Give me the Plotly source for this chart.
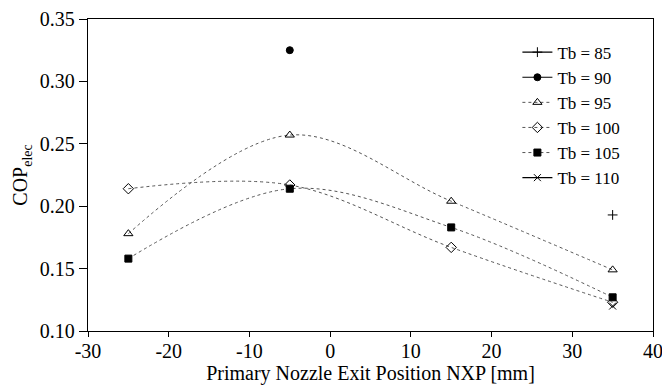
import plotly.graph_objects as go

nxp = [-25, -5, 15, 35]
tb85_x = [35]
tb85_y = [0.193]
tb90_x = [-5]
tb90_y = [0.325]
tb95_y = [0.178, 0.257, 0.204, 0.149]
tb100_y = [0.214, 0.217, 0.167, 0.123]
tb105_y = [0.158, 0.214, 0.183, 0.127]
tb110_x = [35]
tb110_y = [0.120]
x_ticks = [-30, -20, -10, 0, 10, 20, 30, 40]
x_ticktext = ["-30", "-20", "-10", "0", "10", "20", "30", "40"]
y_ticks = [0.10, 0.15, 0.20, 0.25, 0.30, 0.35]
y_ticktext = ["0.10", "0.15", "0.20", "0.25", "0.30", "0.35"]

FONT = "Liberation Serif"
fig = go.Figure()

def add(name, x, y, symbol, dash, color, msize=7, mcolor="black", lw=1.2):
    fig.add_trace(go.Scatter(
        x=x, y=y, name=name, mode="lines+markers",
        line=dict(color=color, width=lw, dash=dash, shape="spline", smoothing=1),
        marker=dict(symbol=symbol, size=msize, color=mcolor,
                    line=dict(color="black", width=1)),
    ))

add("Tb = 85", tb85_x, tb85_y, "cross-thin", "solid", "black", msize=7)
add("Tb = 90", tb90_x, tb90_y, "circle", "solid", "black", msize=7)
add("Tb = 95", nxp, tb95_y, "triangle-up-open", "dot", "#555555", msize=8, lw=1)
add("Tb = 100", nxp, tb100_y, "diamond-open", "dot", "#555555", msize=8, lw=1)
add("Tb = 105", nxp, tb105_y, "square", "dot", "#555555", msize=7, lw=1)
add("Tb = 110", tb110_x, tb110_y, "x-thin", "solid", "black", msize=7)

axis_common = dict(
    showline=True, linecolor="black", linewidth=1.3, mirror=True,
    ticks="outside", tickcolor="black", tickwidth=1.3,
    showgrid=False, zeroline=False, automargin=False,
    ticklabeloverflow="allow",
    tickfont=dict(family=FONT, size=20, color="black"),
)

fig.update_layout(
    width=662, height=388,
    margin=dict(l=88, r=9, t=19, b=57),
    paper_bgcolor="white", plot_bgcolor="white",
    font=dict(family=FONT, color="black"),
    xaxis=dict(range=[-30, 40], tickmode="array", ticklen=5,
               ticklabelstandoff=-3,
               tickvals=x_ticks, ticktext=x_ticktext,
               title=dict(text="Primary Nozzle Exit Position NXP [mm]",
                          font=dict(family=FONT, size=20), standoff=0),
               **axis_common),
    yaxis=dict(range=[0.10, 0.35], tickmode="array", ticklen=8,
               tickvals=y_ticks, ticktext=y_ticktext,
               title=dict(text="COP<sub>elec</sub>",
                          font=dict(family=FONT, size=20), standoff=6),
               **axis_common),
    legend=dict(x=0.76, y=0.95, xanchor="left", yanchor="top",
                bgcolor="rgba(0,0,0,0)", borderwidth=0,
                font=dict(family=FONT, size=17, color="black"),
                tracegroupgap=0, itemwidth=30),
    showlegend=True,
)

fig.write_html("out.html")
